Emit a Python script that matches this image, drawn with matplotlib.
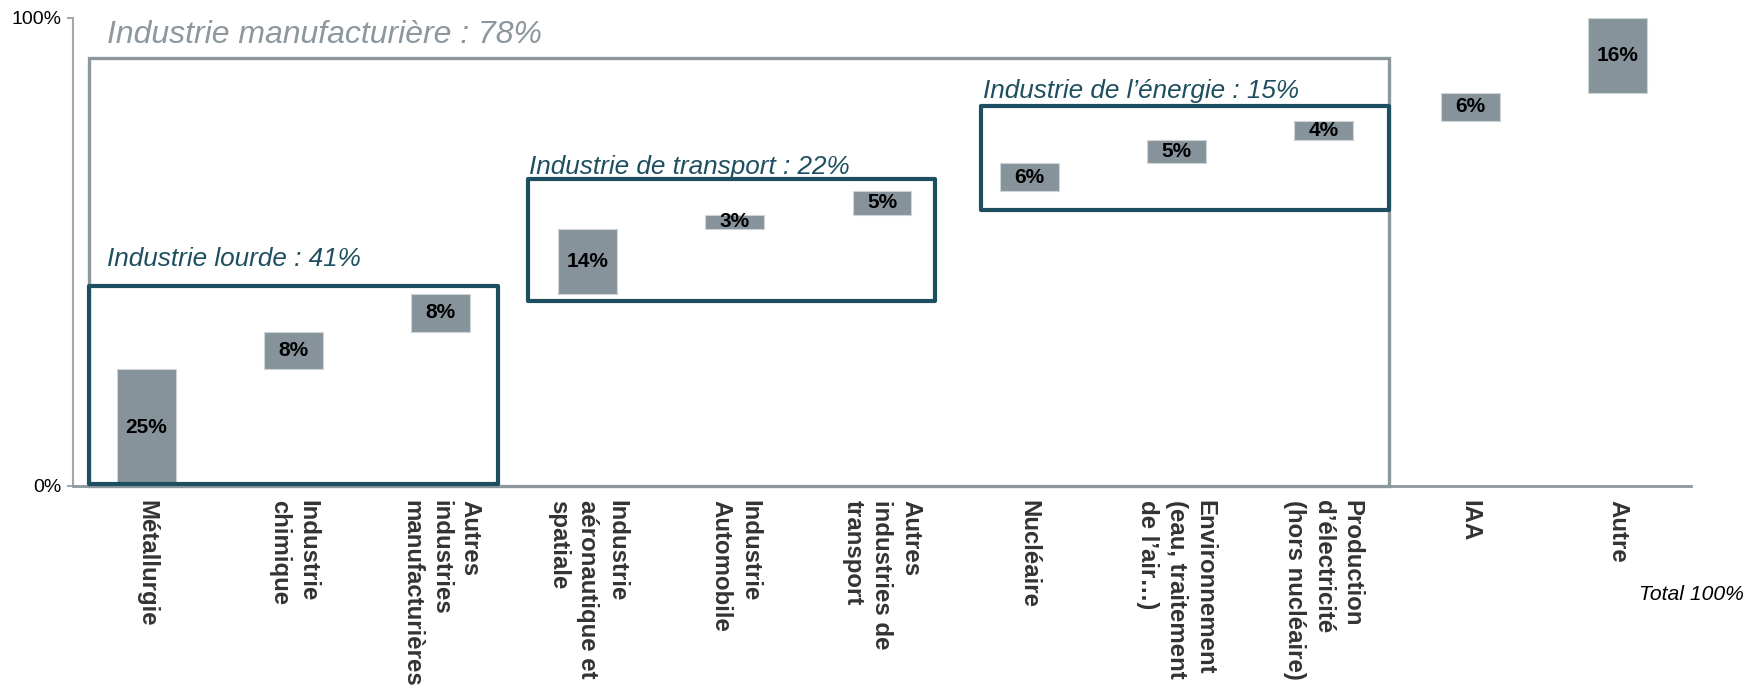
import matplotlib
matplotlib.use("Agg")
import matplotlib.pyplot as plt
from matplotlib.patches import Rectangle
from matplotlib.font_manager import FontProperties
import numpy as np

plt.rcParams['font.family'] = ['Liberation Sans', 'DejaVu Sans']

# ---------------- data ----------------
categories = [
    "Métallurgie",
    "Industrie\nchimique",
    "Autres\nindustries\nmanufacturières",
    "Industrie\naéronautique et\nspatiale",
    "Industrie\nAutomobile",
    "Autres\nindustries de\ntransport",
    "Nucléaire",
    "Environnement\n(eau, traitement\nde l’air…)",
    "Production\nd’électricité\n(hors nucléaire)",
    "IAA",
    "Autre",
]
values = [25, 8, 8, 14, 3, 5, 6, 5, 4, 6, 16]

group_labels = ["Industrie lourde : 41%",
                "Industrie de transport : 22%",
                "Industrie de l’énergie : 15%"]
manuf_label = "Industrie manufacturière : 78%"
total_label = "Total 100%"
ytick_values = [0, 100]
ytick_labels = ["0%", "100%"]

# ---------------- layout (positions only) ----------------
box_x0 = [-0.39, 2.59, 5.67]
box_x1 = [2.39, 5.36, 8.45]
box_y0 = [0.5, 39.6, 59.0]
box_y1 = [42.7, 65.5, 81.3]
title_x = [-0.27, 2.60, 5.69]
title_y = [48.4, 68.1, 84.4]
manuf_box = (-0.39, 0.0, 8.45, 91.4)
manuf_title = (-0.27, 96.4)

BAR = '#87939B'
TEAL = '#1E4F60'
GREY = '#8C979E'

fig = plt.figure(figsize=(17.58, 6.86), dpi=100)
ax = fig.add_axes([73/1758, 1 - 486/686, (1691-73)/1758, (486-18)/686])

x = np.arange(len(values))
bottoms = np.concatenate([[0], np.cumsum(values)[:-1]])
bars = ax.bar(x, values, bottom=bottoms, width=0.40, color=BAR,
              edgecolor='#cfd4d7', linewidth=0.8, zorder=2)
for xi, b, v in zip(x, bottoms, values):
    ax.text(xi, b + v / 2, f"{v}%", ha='center', va='center',
            fontsize=15, fontweight='bold', color='black', zorder=5)

# manufacturing box
mx0, my0, mx1, my1 = manuf_box
ax.add_patch(Rectangle((mx0, my0), mx1 - mx0, my1 - my0, fill=False,
                       edgecolor=GREY, linewidth=2.4, zorder=3, clip_on=False))
ax.text(manuf_title[0], manuf_title[1], manuf_label, fontsize=23,
        style='italic', color=GREY, ha='left', va='center')

for lab, x0, x1, y0, y1, tx, ty in zip(group_labels, box_x0, box_x1, box_y0,
                                         box_y1, title_x, title_y):
    ax.add_patch(Rectangle((x0, y0), x1 - x0, y1 - y0, fill=False,
                           edgecolor=TEAL, linewidth=3.0, zorder=4,
                           clip_on=False, joinstyle='round'))
    ax.text(tx, ty, lab, fontsize=18.8, style='italic', color=TEAL,
            ha='left', va='center')

# tick label line spacing
TICK_FS = 17.3
fp = FontProperties(family=['Liberation Sans', 'DejaVu Sans'], weight='bold',
                    size=TICK_FS)
renderer = fig.canvas.get_renderer()
_, lp_h, lp_d = renderer.get_text_width_height_descent("lp", fp, ismath=False)
line_sp = 24.0 / (lp_h - lp_d)

ax.set_xlim(-0.5, len(values) - 0.5)
ax.set_ylim(0, 100)
ax.set_xticks(x)
ax.set_xticklabels(categories, rotation=-90, ha='center', va='top',
                   fontsize=TICK_FS, fontweight='bold', color='#333333',
                   multialignment='left', linespacing=line_sp)
ax.tick_params(axis='x', length=0, pad=10)
ax.set_yticks(ytick_values)
ax.set_yticklabels(ytick_labels, fontsize=14)
ax.tick_params(axis='y', length=4, color=GREY, width=1.2, pad=4)

for s in ['top', 'right']:
    ax.spines[s].set_visible(False)
ax.spines['left'].set_color('#a0a8ad')
ax.spines['left'].set_linewidth(1.5)
ax.spines['bottom'].set_color(GREY)
ax.spines['bottom'].set_linewidth(2.0)

fig.text(1691/1758, 1 - 595/686, total_label, fontsize=15.2, style='italic',
         ha='center', va='center', color='black')

fig.savefig("out.png", dpi=100)
